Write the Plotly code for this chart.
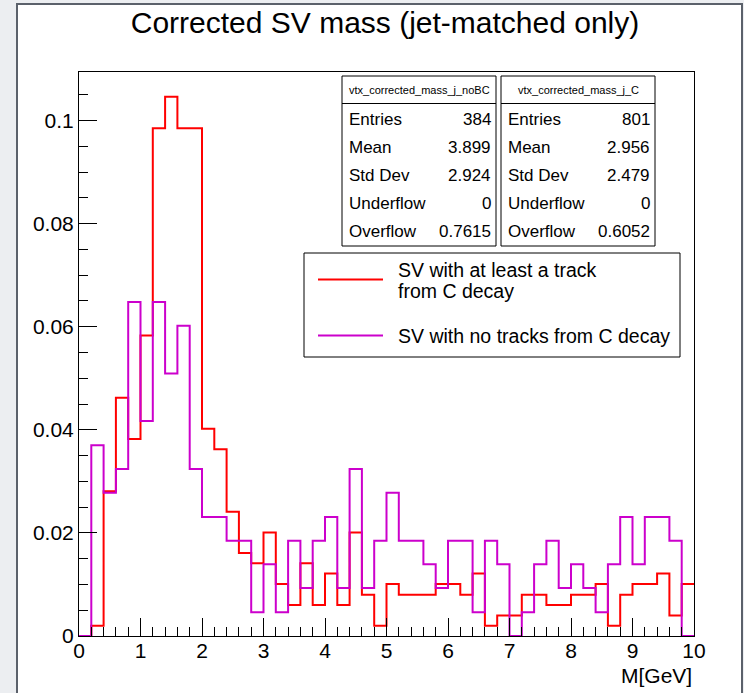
import numpy as np
import plotly.graph_objects as go

# ---------------- data ----------------
n_bins = 50
x_min, x_max = 0.0, 10.0

# "SV with at least a track from C decay"  (vtx_corrected_mass_j_C)
red_values = [
    0.0, 0.0020, 0.0281, 0.0462, 0.0382, 0.0583, 0.0985, 0.1046, 0.0985, 0.0985,
    0.0402, 0.0362, 0.0241, 0.0161, 0.0141, 0.0201, 0.0101, 0.0060, 0.0141, 0.0060,
    0.0121, 0.0060, 0.0201, 0.0080, 0.0020, 0.0101, 0.0080, 0.0080, 0.0080, 0.0101,
    0.0101, 0.0080, 0.0121, 0.0020, 0.0040, 0.0040, 0.0080, 0.0080, 0.0060, 0.0060,
    0.0080, 0.0080, 0.0101, 0.0020, 0.0080, 0.0101, 0.0101, 0.0121, 0.0040, 0.0101,
]
# "SV with no tracks from C decay"  (vtx_corrected_mass_j_noBC)
mag_values = [
    0.0, 0.0370, 0.0278, 0.0324, 0.0648, 0.0417, 0.0648, 0.0509, 0.0602, 0.0324,
    0.0231, 0.0231, 0.0185, 0.0185, 0.0046, 0.0139, 0.0046, 0.0185, 0.0093, 0.0185,
    0.0231, 0.0093, 0.0324, 0.0093, 0.0185, 0.0278, 0.0185, 0.0185, 0.0139, 0.0093,
    0.0185, 0.0185, 0.0046, 0.0185, 0.0139, 0.0, 0.0046, 0.0139, 0.0185, 0.0093,
    0.0139, 0.0093, 0.0046, 0.0139, 0.0231, 0.0139, 0.0231, 0.0231, 0.0185, 0.0,
]

title_text = "Corrected SV mass (jet-matched only)"
x_title = "M[GeV]"
legend_labels = ["SV with at least a track<br>from C decay", "SV with no tracks from C decay"]

stats_noBC_name = "vtx_corrected_mass_j_noBC"
stats_noBC_labels = ["Entries", "Mean", "Std Dev", "Underflow", "Overflow"]
stats_noBC_values = ["384", "3.899", "2.924", "0", "0.7615"]
stats_C_name = "vtx_corrected_mass_j_C"
stats_C_labels = ["Entries", "Mean", "Std Dev", "Underflow", "Overflow"]
stats_C_values = ["801", "2.956", "2.479", "0", "0.6052"]

# ---------------- layout constants ----------------
W, H = 744, 693
ML, MR, MT, MB = 79, 50, 72, 57
PW, PH = W - ML - MR, H - MT - MB
FONT = "Liberation Sans, Arial, Helvetica, sans-serif"
RED = "#ff0000"
MAG = "#cc00cc"


def px_x(p):
    return (p - ML) / PW


def px_y(p):
    return (H - MB - p) / PH


edges = np.linspace(x_min, x_max, n_bins + 1)


def step_xy(vals):
    return list(edges), list(vals) + [vals[-1]]


fig = go.Figure()
for vals, col, name in [(red_values, RED, legend_labels[0]), (mag_values, MAG, legend_labels[1])]:
    xs, ys = step_xy(vals)
    fig.add_trace(go.Scatter(x=xs, y=ys, mode="lines", line=dict(color=col, width=2, shape="hv"),
                             name=name, showlegend=False, hoverinfo="skip"))

shapes = []
annotations = []

# canvas (white area with dark border)
shapes.append(dict(type="rect", xref="paper", yref="paper", layer="below",
                   x0=px_x(17), x1=px_x(742), y0=px_y(4), y1=px_y(H + 10),
                   fillcolor="white", line=dict(color="#5b616b", width=2)))

# stats boxes
def stats_box(x0, x1, name, labels, values):
    top, sep, bot = 76, 103.5, 246
    shapes.append(dict(type="rect", xref="paper", yref="paper", x0=px_x(x0), x1=px_x(x1),
                       y0=px_y(bot), y1=px_y(top), fillcolor="white", line=dict(color="black", width=1)))
    shapes.append(dict(type="line", xref="paper", yref="paper", x0=px_x(x0), x1=px_x(x1),
                       y0=px_y(sep), y1=px_y(sep), line=dict(color="black", width=1)))
    annotations.append(dict(xref="paper", yref="paper", x=px_x((x0 + x1) / 2), y=px_y((top + sep) / 2),
                            text=name, showarrow=False, xanchor="center", yanchor="middle",
                            font=dict(family=FONT, size=11, color="black")))
    rows_y = [119.5, 147.5, 175.5, 203.5, 231.5]
    for lab, val, yy in zip(labels, values, rows_y):
        annotations.append(dict(xref="paper", yref="paper", x=px_x(x0 + 5), y=px_y(yy), text=lab,
                                showarrow=False, xanchor="left", yanchor="middle",
                                font=dict(family=FONT, size=17, color="black")))
        annotations.append(dict(xref="paper", yref="paper", x=px_x(x1 - 3), y=px_y(yy), text=val,
                                showarrow=False, xanchor="right", yanchor="middle",
                                font=dict(family=FONT, size=17, color="black")))

stats_box(342, 496, stats_noBC_name, stats_noBC_labels, stats_noBC_values)
stats_box(501, 655, stats_C_name, stats_C_labels, stats_C_values)

# legend box
shapes.append(dict(type="rect", xref="paper", yref="paper", x0=px_x(304), x1=px_x(680),
                   y0=px_y(357), y1=px_y(253), fillcolor="white", line=dict(color="black", width=1)))
for col, yy in [(RED, 279.5), (MAG, 335.5)]:
    shapes.append(dict(type="line", xref="paper", yref="paper", x0=px_x(318), x1=px_x(383),
                       y0=px_y(yy), y1=px_y(yy), line=dict(color=col, width=2)))
leg_lines = legend_labels[0].split("<br>")
for txt, yy in [(leg_lines[0], 270), (leg_lines[1], 290.5), (legend_labels[1], 336)]:
    annotations.append(dict(xref="paper", yref="paper", x=px_x(396), y=px_y(yy), text=txt,
                            showarrow=False, xanchor="left", yanchor="middle",
                            font=dict(family=FONT, size=19.5, color="black")))

# x-axis title
annotations.append(dict(xref="paper", yref="paper", x=px_x(694), y=px_y(675), text=x_title,
                        showarrow=False, xanchor="right", yanchor="middle",
                        font=dict(family=FONT, size=21, color="black")))

fig.update_layout(
    width=W, height=H,
    margin=dict(l=ML, r=MR, t=MT, b=MB, pad=0),
    paper_bgcolor="#eceef1",
    plot_bgcolor="white",
    title=dict(text=title_text, x=385 / W, xanchor="center", xref="container",
               y=1 - 22 / H, yanchor="middle", yref="container",
               font=dict(family=FONT, size=30, color="black")),
    shapes=shapes,
    annotations=annotations,
    showlegend=False,
)
fig.update_xaxes(range=[x_min, x_max], showgrid=False, zeroline=False,
                 showline=True, linecolor="black", linewidth=1, mirror=True,
                 ticks="inside", ticklen=18, tickwidth=1, tickcolor="black", dtick=1, tick0=0,
                 ticklabelstandoff=-4,
                 minor=dict(ticks="inside", ticklen=9, dtick=0.2, tick0=0, tickcolor="black", tickwidth=1, showgrid=False),
                 tickfont=dict(family=FONT, size=21, color="black"))
fig.update_yaxes(range=[0, 0.1094], showgrid=False, zeroline=False,
                 showline=True, linecolor="black", linewidth=1, mirror=True,
                 ticks="inside", ticklen=18, tickwidth=1, tickcolor="black", dtick=0.02, tick0=0,
                 minor=dict(ticks="inside", ticklen=9, dtick=0.005, tick0=0, tickcolor="black", tickwidth=1, showgrid=False),
                 tickfont=dict(family=FONT, size=21, color="black"))

fig.write_html("out.html")
